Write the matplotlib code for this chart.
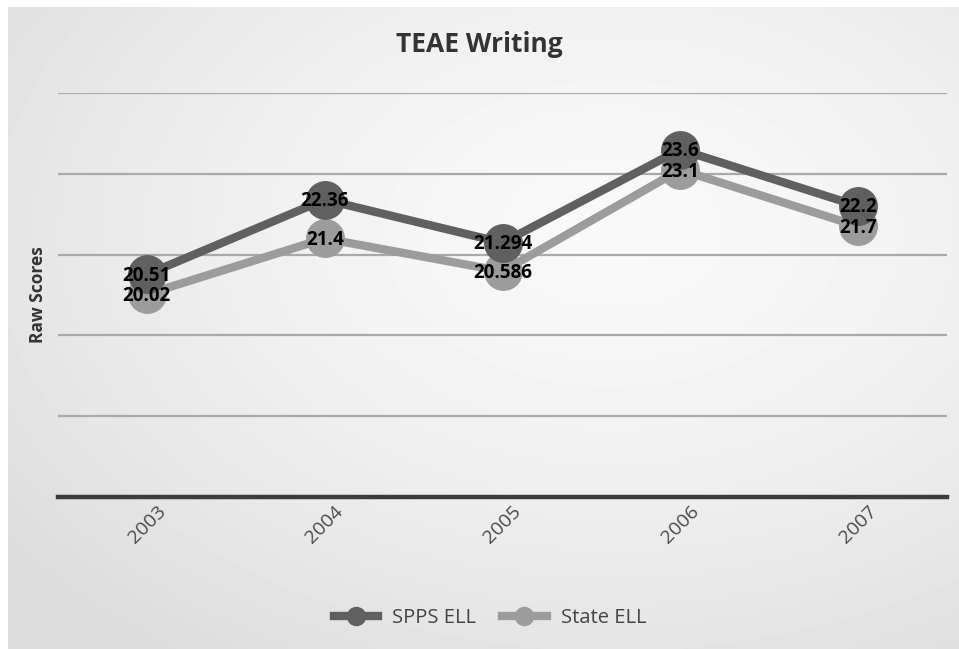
import numpy as np
import matplotlib.pyplot as plt
from matplotlib.lines import Line2D

years = ["2003", "2004", "2005", "2006", "2007"]
spps_ell = [20.51, 22.36, 21.294, 23.6, 22.2]
state_ell = [20.02, 21.4, 20.586, 23.1, 21.7]
series_names = ["SPPS ELL", "State ELL"]

W, H = 959, 649
fig = plt.figure(figsize=(W / 100, H / 100), dpi=100)
fig.patch.set_facecolor("white")

# soft radial grey panel behind the chart
bg = fig.add_axes([8 / W, 0, 1 - 8 / W, 1 - 7 / H])
yy, xx = np.mgrid[0:200, 0:300]
cx, cy = 190, 70
r = np.sqrt(((xx - cx) / 300) ** 2 + ((yy - cy) / 200) ** 2)
shade = 0.975 - 0.11 * np.clip(r / 0.8, 0, 1) ** 1.5
bg.imshow(shade, cmap="gray", vmin=0, vmax=1, aspect="auto",
          extent=[0, 1, 0, 1], interpolation="bilinear")
bg.axis("off")

ax = fig.add_axes([58 / W, 1 - 497 / H, (947 - 58) / W, (497 - 93) / H])
ax.patch.set_alpha(0)
x = np.arange(len(years))
ax.set_xlim(-0.5, len(years) - 0.5)
ax.set_ylim(15, 25)

for g in [17, 19, 21, 23, 25]:
    ax.axhline(g, color="#a9a9a9", lw=1.6, zorder=1)
ax.axhline(15, color="#3c3c3c", lw=3.2, zorder=2, clip_on=False)

for s in ax.spines.values():
    s.set_visible(False)
ax.set_yticks([])
ax.set_xticks(x)
ax.set_xticklabels(years, rotation=45, fontsize=14, color="#4a4a4a",
                   family="Open Sans")
ax.tick_params(axis="x", length=0, pad=4)
ax.set_ylabel("Raw Scores", fontsize=12.5, fontweight="bold",
              color="#333333", family="Open Sans", labelpad=8)

c_spps = "#606060"
c_state = "#9c9c9c"
ax.plot(x, state_ell, color=c_state, lw=6, marker="o", ms=27,
        zorder=3, solid_capstyle="round")
ax.plot(x, spps_ell, color=c_spps, lw=6, marker="o", ms=27,
        zorder=4, solid_capstyle="round")

for xi, v in zip(x, spps_ell):
    ax.text(xi, v - 0.03, f"{v:g}", ha="center", va="center", fontsize=13.5,
            fontweight="bold", color="black", family="Open Sans", zorder=6)
for xi, v in zip(x, state_ell):
    ax.text(xi, v - 0.05, f"{v:g}", ha="center", va="center", fontsize=13.5,
            fontweight="bold", color="black", family="Open Sans", zorder=6)

fig.text(0.5, 1 - 45 / H, "TEAE Writing", ha="center", va="center",
         fontsize=19, fontweight="bold", color="#333333", family="Open Sans")

handles = [Line2D([0], [0], color=c_spps, lw=6, marker="o", ms=13),
           Line2D([0], [0], color=c_state, lw=6, marker="o", ms=13)]
fig.legend(handles, series_names, loc="center", bbox_to_anchor=(490 / W, 1 - 618 / H),
           ncol=2, frameon=False, handlelength=2.2, handletextpad=0.7,
           columnspacing=1.3, prop={"family": "Open Sans", "size": 14.5},
           labelcolor="#444444")

fig.savefig("out.png", dpi=100)
